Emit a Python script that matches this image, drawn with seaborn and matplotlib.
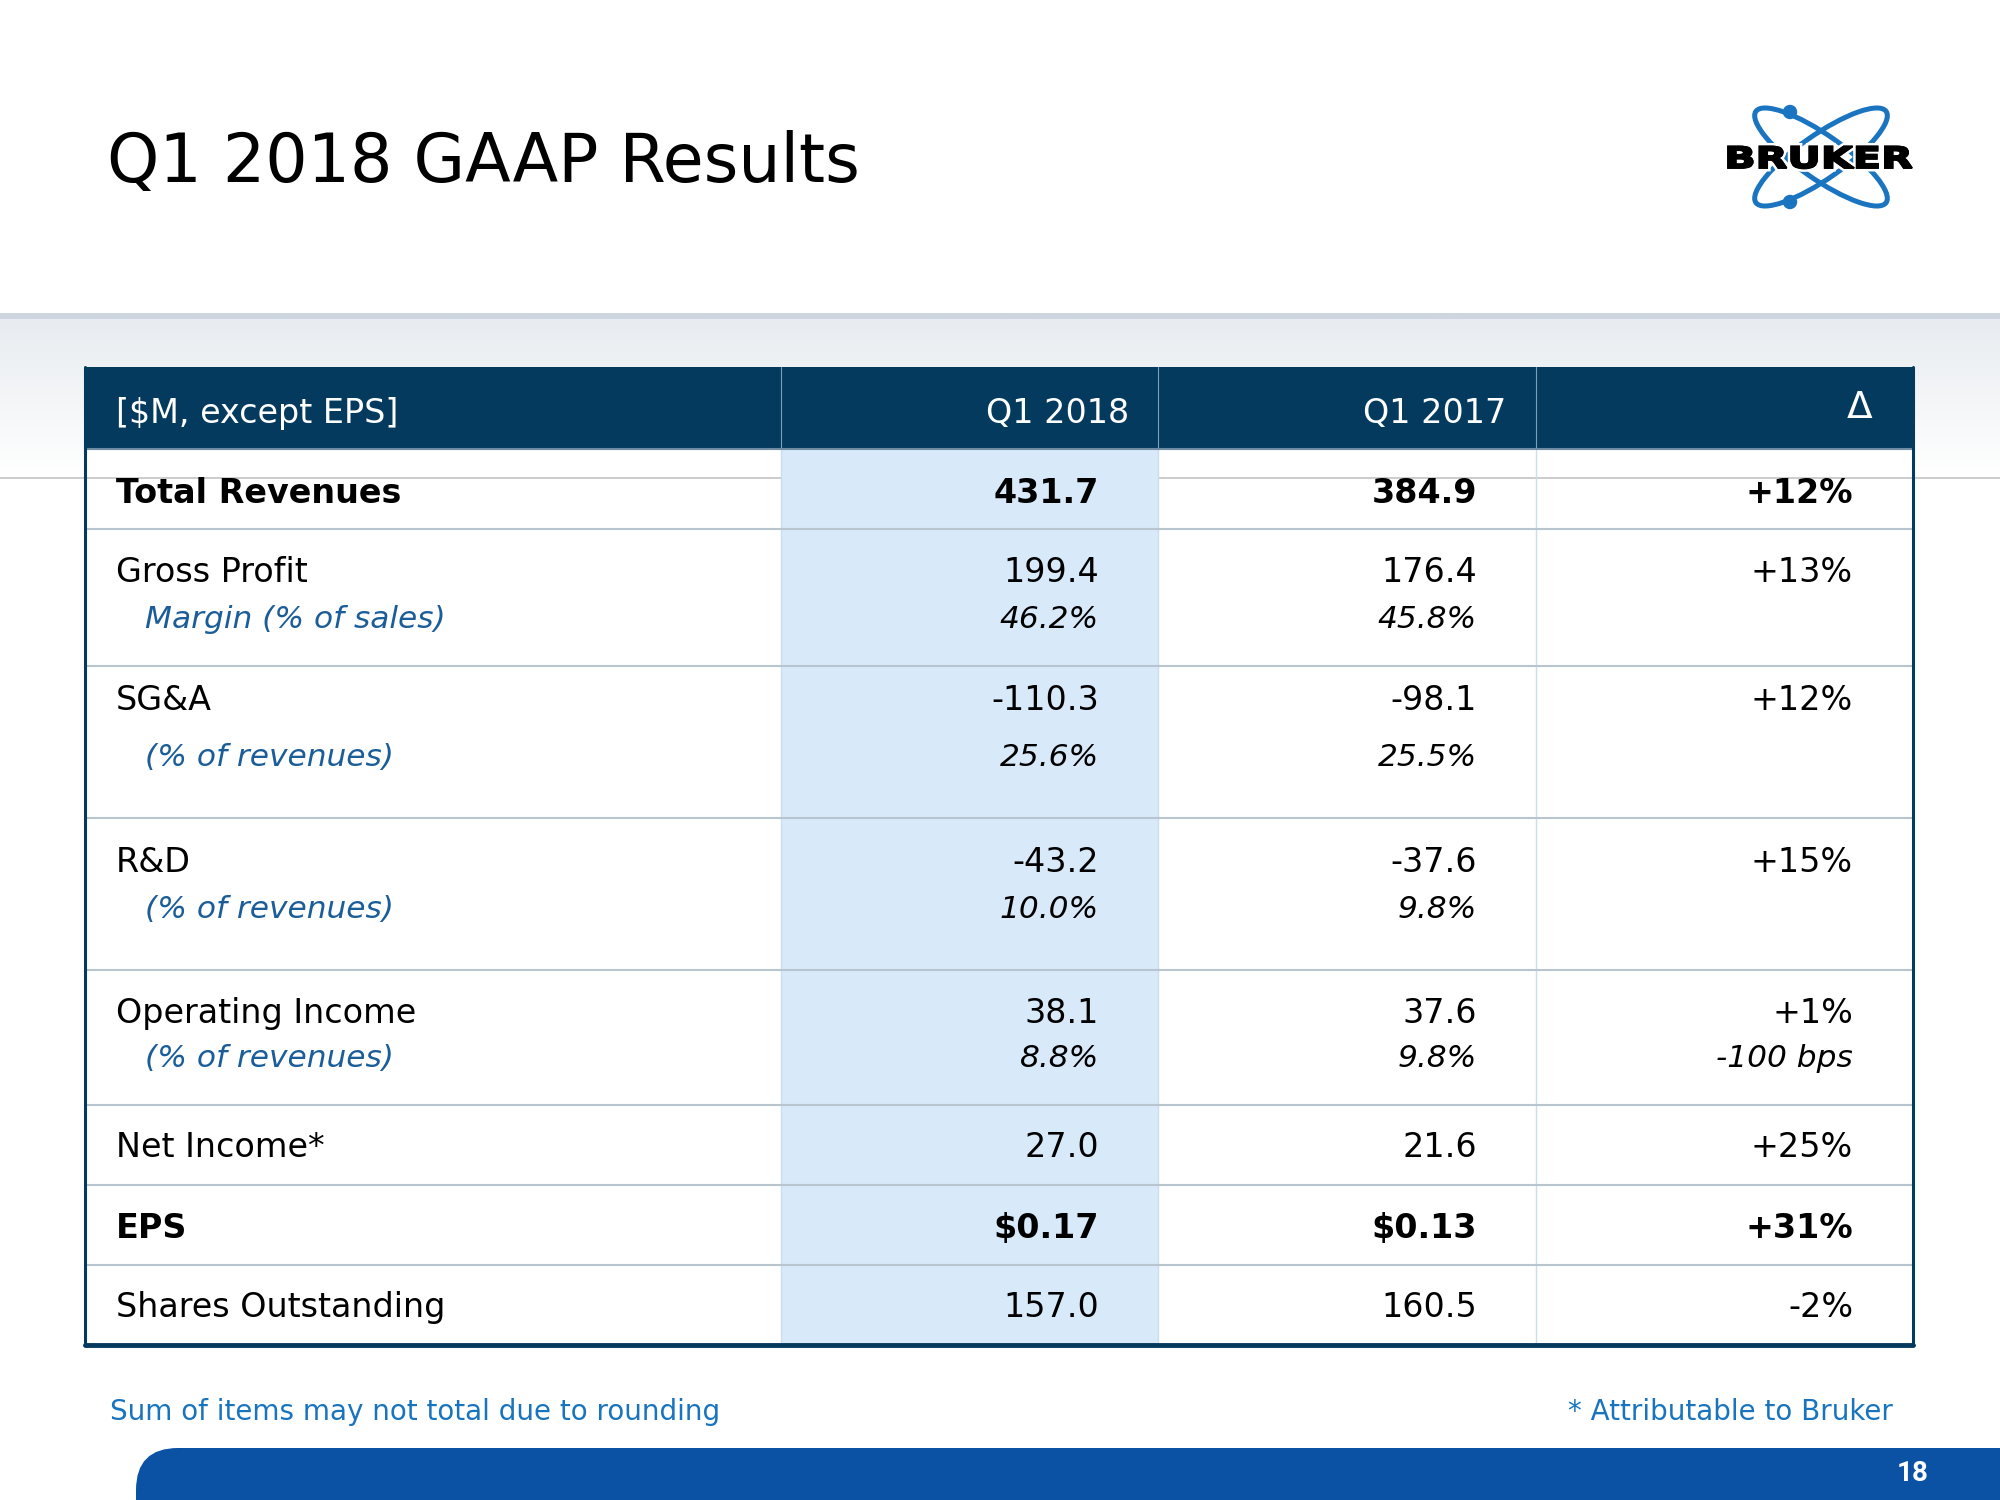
import numpy as np
import matplotlib.pyplot as plt
import seaborn as sns
from matplotlib.patches import Rectangle, Ellipse, Circle, PathPatch
from matplotlib.path import Path
from matplotlib.textpath import TextPath
from matplotlib.font_manager import FontProperties
from matplotlib.transforms import Affine2D
from matplotlib.colors import LinearSegmentedColormap
import matplotlib.patheffects as pe

# Table contents
col_headers = ['[$M, except EPS]', 'Q1 2018', 'Q1 2017', 'Δ']
row_labels = ['Total Revenues', 'Gross Profit', 'SG&A', 'R&D', 'Operating Income',
              'Net Income*', 'EPS', 'Shares Outstanding']
sub_labels = ['', 'Margin (% of sales)', '(% of revenues)', '(% of revenues)',
              '(% of revenues)', '', '', '']
q1_2018 = ['431.7', '199.4', '-110.3', '-43.2', '38.1', '27.0', '$0.17', '157.0']
q1_2018_pct = ['', '46.2%', '25.6%', '10.0%', '8.8%', '', '', '']
q1_2017 = ['384.9', '176.4', '-98.1', '-37.6', '37.6', '21.6', '$0.13', '160.5']
q1_2017_pct = ['', '45.8%', '25.5%', '9.8%', '9.8%', '', '', '']
delta = ['+12%', '+13%', '+12%', '+15%', '+1%', '+25%', '+31%', '-2%']
delta_sub = ['', '', '', '', '-100 bps', '', '', '']
bold_rows = ['Total Revenues', 'EPS']

# Layout (pixels, y down)
tbl_left, tbl_right = 85, 1913
head_top, head_bot = 367, 449
col_x = [781, 1158, 1536]
row_edges = [449, 529, 666, 818, 970, 1105, 1185, 1265, 1345]
main_y = [491, 570, 698, 860, 1011, 1145, 1226, 1305]
sub_y = [None, 617, 755, 907, 1056, None, None, None]
val_x = [1099, 1477, 1853]

navy = '#053a5f'
light_blue = '#d8e9fa'
sub_blue = '#1b5d99'
note_blue = '#1874be'

sns.set_theme(style="white", font="DejaVu Sans")
plt.rcParams['font.family'] = ['DejaVu Sans']

fig = plt.figure(figsize=(20, 15), dpi=100)
ax = fig.add_axes([0, 0, 1, 1])

# Title
ax.text(107, 182, 'Q1 2018 GAAP Results', fontsize=48, color='black', va='baseline', ha='left')

# Grey band under title
ax.add_patch(Rectangle((0, 313), 2000, 6, color='#cdd6de', lw=0, zorder=0))
grad_cmap = LinearSegmentedColormap.from_list('band', ['#e8ecf0', '#ffffff'])
grad = np.linspace(0, 1, 100).reshape(-1, 1)
ax.imshow(grad, extent=(0, 2000, 478, 319), aspect='auto', cmap=grad_cmap, zorder=0)

# Table body
ax.add_patch(Rectangle((tbl_left, head_bot), tbl_right - tbl_left, row_edges[-1] - head_bot,
                       facecolor='white', lw=0, zorder=1))
ax.plot([0, 2000], [478, 478], color='#c4c4c4', lw=1.2, zorder=2)
ax.add_patch(Rectangle((col_x[0], head_bot), col_x[1] - col_x[0], row_edges[-1] - head_bot,
                       facecolor=light_blue, lw=0, zorder=3))
for x in col_x:
    ax.plot([x, x], [head_bot, row_edges[-1]], color='#cadeee', lw=1, zorder=3)
for y in row_edges[1:-1]:
    ax.plot([tbl_left, tbl_right], [y, y], color='#b9c5ce', lw=1.5, zorder=4)

# Header
ax.add_patch(Rectangle((tbl_left, head_top), tbl_right - tbl_left, head_bot - head_top,
                       facecolor=navy, lw=0, zorder=4))
for x in col_x:
    ax.plot([x, x], [head_top, head_bot], color='#7d9db8', lw=0.8, zorder=5)
ax.plot([tbl_left, tbl_right], [head_bot, head_bot], color='#6f8ca3', lw=1.5, zorder=5)

# Outer frame
ax.plot([tbl_left, tbl_left, tbl_right, tbl_right], [head_top, row_edges[-1], row_edges[-1], head_top],
        color=navy, lw=2.2, zorder=6)
ax.plot([tbl_left, tbl_right], [row_edges[-1], row_edges[-1]], color=navy, lw=3.5, zorder=6)

# Header text
ax.text(116, 423, col_headers[0], fontsize=24, color='white', ha='left', va='baseline', zorder=7)
ax.text(1129, 423, col_headers[1], fontsize=24, color='white', ha='right', va='baseline', zorder=7)
ax.text(1506, 423, col_headers[2], fontsize=24, color='white', ha='right', va='baseline', zorder=7)
ax.text(1872, 418, col_headers[3], fontsize=27, color='white', ha='right', va='baseline', zorder=7)

# Rows
for i, label in enumerate(row_labels):
    weight = 'bold' if label in bold_rows else 'normal'
    y = main_y[i] + 12
    ax.text(116, y, label, fontsize=24, fontweight=weight, color='black', ha='left', va='baseline', zorder=7)
    for x, v in zip(val_x, [q1_2018[i], q1_2017[i], delta[i]]):
        ax.text(x, y, v, fontsize=24, fontweight=weight, color='black', ha='right', va='baseline', zorder=7)
    if sub_y[i] is not None:
        ys = sub_y[i] + 11
        ax.text(145, ys, sub_labels[i], fontsize=22.5, style='italic', color=sub_blue,
                ha='left', va='baseline', zorder=7)
        for x, v in zip(val_x, [q1_2018_pct[i], q1_2017_pct[i], delta_sub[i]]):
            if v:
                ax.text(x, ys, v, fontsize=22.5, style='italic', color='black',
                        ha='right', va='baseline', zorder=7)

# Footnotes
ax.text(110, 1420, 'Sum of items may not total due to rounding', fontsize=20, color=note_blue,
        ha='left', va='baseline')
ax.text(1893, 1420, '* Attributable to Bruker', fontsize=20, color=note_blue, ha='right', va='baseline')

# Bottom bar with rounded corner
x0, y0, r = 136, 1448, 42
bar = Path([(2000, 1500), (x0, 1500), (x0, y0 + r), (x0, y0), (x0 + r, y0), (2000, y0), (2000, 1500)],
           [Path.MOVETO, Path.LINETO, Path.LINETO, Path.CURVE3, Path.CURVE3, Path.LINETO, Path.CLOSEPOLY])
ax.add_patch(PathPatch(bar, facecolor='#0b52a4', edgecolor='none', zorder=2))
ax.text(1913, 1481, '18', fontsize=20, fontweight='bold', family='Roboto', color='white',
        ha='center', va='baseline', zorder=3)

# Logo
logo_blue = '#1a74bf'
for ang in (35, -35):
    ax.add_patch(Ellipse((1821, 157), 159, 44, angle=ang, fill=False, edgecolor=logo_blue, lw=3.6, zorder=8))
for cy in (112, 202):
    ax.add_patch(Circle((1790, cy), 6.5, color=logo_blue, zorder=8))
tp = TextPath((0, 0), 'BRUKER', size=1, prop=FontProperties(family='DejaVu Sans', weight='bold'))
ext = tp.get_extents()
tr = Affine2D().translate(-ext.x0, 0).scale(184 / ext.width, -22 / ext.height).translate(1728, 168)
ax.add_patch(PathPatch(tp, transform=tr + ax.transData, facecolor='black', edgecolor='black', lw=1.2,
                       zorder=9, path_effects=[pe.withStroke(linewidth=5, foreground='white'), pe.Normal()]))

ax.set_xlim(0, 2000)
ax.set_ylim(1500, 0)
ax.axis('off')

fig.savefig('out.png', dpi=100, facecolor='white')
